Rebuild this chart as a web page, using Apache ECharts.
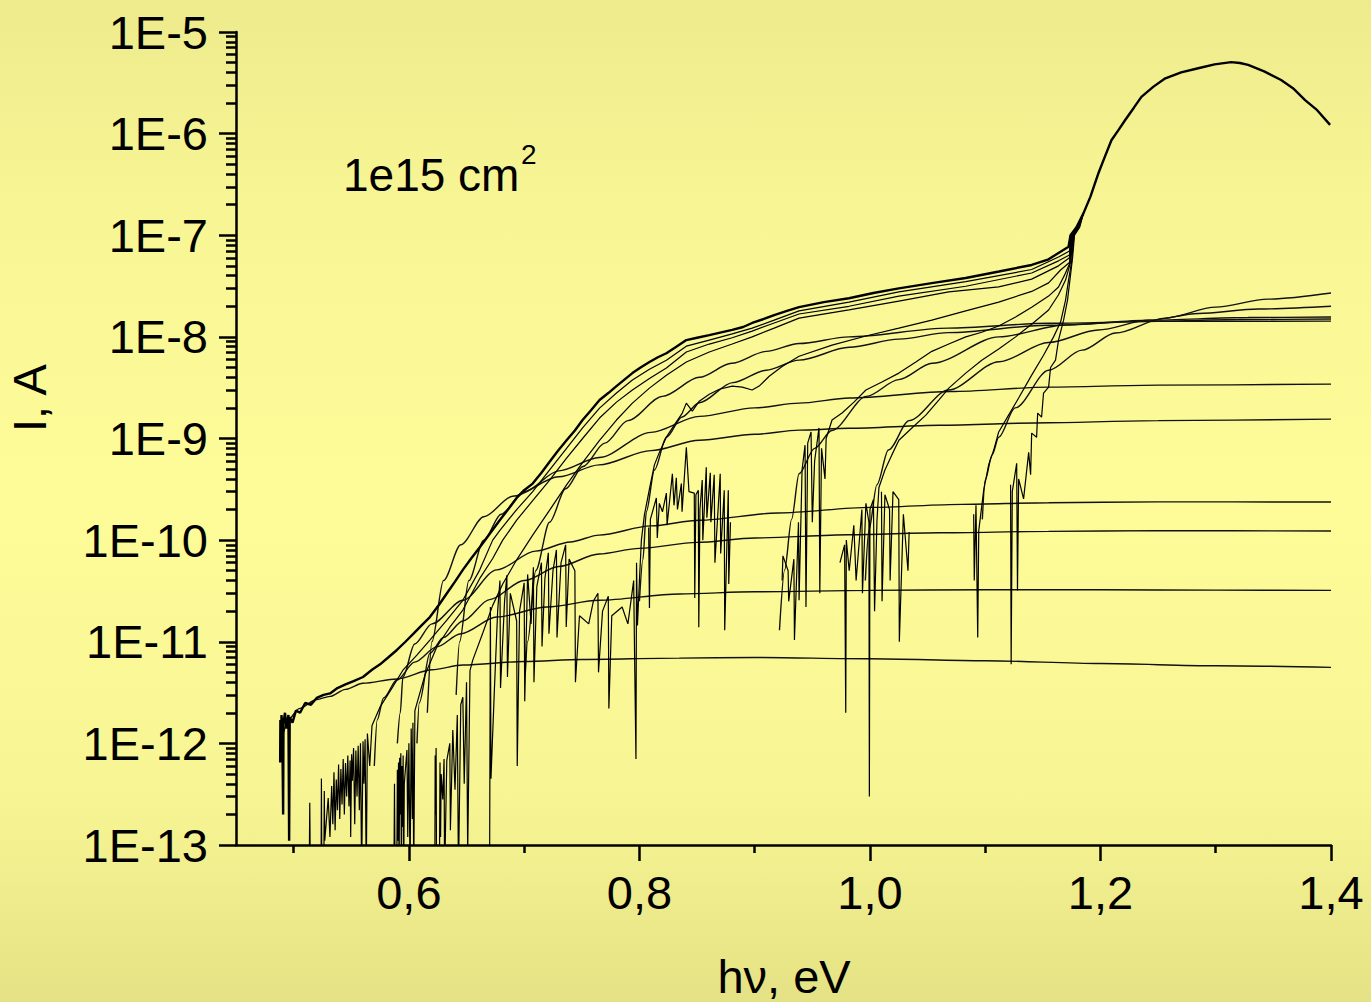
<!DOCTYPE html>
<html>
<head>
<meta charset="utf-8">
<script src="https://cdn.jsdelivr.net/npm/echarts@6/dist/echarts.min.js"></script>
<style>
html,body{margin:0;padding:0;width:1371px;height:1002px;overflow:hidden;}
#chart{width:1371px;height:1002px;
  background:linear-gradient(to bottom,#eeeb8d 0%,#f9f795 25%,#fdfc99 50%,#f8f694 78%,#e5e285 100%);}
</style>
</head>
<body>
<div id="chart"></div>
<script>
// ---- axis ticks ----
const xMajorTicks = [0.6, 0.8, 1.0, 1.2, 1.4];
const xMinorTicks = [0.5, 0.7, 0.9, 1.1, 1.3];
const yDecades = [1e-13, 1e-12, 1e-11, 1e-10, 1e-9, 1e-8, 1e-7, 1e-6, 1e-5];
const yTickLabels = ['1E-13', '1E-12', '1E-11', '1E-10', '1E-9', '1E-8', '1E-7', '1E-6', '1E-5'];
const minorMantissas = [2, 3, 4, 5, 6, 7, 8, 9];

// ---- measured photocurrent scans: [hν (eV), I (A)] ----
const scan1 = [[0.4883,6.5e-13],[0.4885,1.7e-12],[0.4890,1.0e-12],[0.4895,1.9e-12],[0.4902,1.2e-12],[0.4909,2.0e-13],[0.4912,1.6e-12],[0.4925,2.0e-12],[0.4938,1.4e-12],[0.4955,1.9e-12],[0.4961,1.1e-13],[0.4966,1.8e-12],[0.4990,1.6e-12],[0.5020,2.1e-12],[0.5056,2.0e-12],[0.5100,2.5e-12],[0.5150,2.4e-12],[0.5200,2.8e-12],[0.5260,3.0e-12],[0.5316,3.1e-12],[0.5380,3.5e-12],[0.5450,3.8e-12],[0.5520,4.1e-12],[0.5602,4.5e-12],[0.5680,5.3e-12],[0.5750,6.0e-12],[0.5820,7.0e-12],[0.5896,8.3e-12],[0.5970,1.0e-11],[0.6040,1.2e-11],[0.6110,1.45e-11],[0.6182,1.75e-11],[0.6260,2.3e-11],[0.6330,3.0e-11],[0.6400,3.9e-11],[0.6468,5.1e-11],[0.6540,6.6e-11],[0.6615,8.5e-11],[0.6700,1.15e-10],[0.6788,1.57e-10],[0.6860,2.0e-10],[0.6935,2.6e-10],[0.7000,3.1e-10],[0.7074,3.6e-10],[0.7150,4.6e-10],[0.7221,5.9e-10],[0.7290,7.5e-10],[0.7368,9.6e-10],[0.7440,1.2e-9],[0.7507,1.52e-9],[0.7580,1.9e-9],[0.7654,2.39e-9],[0.7730,2.8e-9],[0.7801,3.28e-9],[0.7870,3.8e-9],[0.7939,4.4e-9],[0.8010,5.0e-9],[0.8087,5.65e-9],[0.8160,6.3e-9],[0.8234,6.9e-9],[0.8320,8.0e-9],[0.8407,9.3e-9],[0.8500,9.8e-9],[0.8606,1.04e-8],[0.8700,1.1e-8],[0.8805,1.17e-8],[0.8900,1.25e-8],[0.8978,1.37e-8],[0.9080,1.5e-8],[0.9169,1.64e-8],[0.9280,1.8e-8],[0.9385,1.96e-8],[0.9600,2.2e-8],[0.9818,2.4e-8],[1.0030,2.7e-8],[1.0251,3.0e-8],[1.0550,3.4e-8],[1.0831,3.8e-8],[1.1120,4.4e-8],[1.1403,5.1e-8],[1.1550,5.8e-8],[1.1636,6.7e-8],[1.1723,7.7e-8],[1.1740,1.0e-7],[1.1792,1.2e-7],[1.1853,1.65e-7],[1.1913,2.4e-7],[1.1983,4.1e-7],[1.2040,6.0e-7],[1.2095,8.6e-7],[1.2160,1.1e-6],[1.2216,1.37e-6],[1.2290,1.8e-6],[1.2355,2.3e-6],[1.2460,2.9e-6],[1.2563,3.5e-6],[1.2700,4.0e-6],[1.2848,4.4e-6],[1.2990,4.8e-6],[1.3134,5.05e-6],[1.3210,4.95e-6],[1.3281,4.75e-6],[1.3420,4.1e-6],[1.3567,3.37e-6],[1.3670,2.8e-6],[1.3775,2.14e-6],[1.3880,1.7e-6],[1.3992,1.22e-6]];

const scan2 = [[0.5135,5e-14],[0.5140,2.6e-13],[0.5145,5e-14],[0.5238,5e-14],[0.5241,4.5e-13],[0.5244,8e-14],[0.5262,5e-14],[0.5266,3.4e-13],[0.5270,1.1e-13],[0.5300,2.9e-13],[0.5315,1.2e-13],[0.5330,3.8e-13],[0.5340,1.6e-13],[0.5350,5.2e-13],[0.5360,1.4e-13],[0.5370,4.4e-13],[0.5380,2.2e-13],[0.5390,6.2e-13],[0.5400,1.8e-13],[0.5410,5.6e-13],[0.5420,2.5e-13],[0.5430,7.0e-13],[0.5440,2.0e-13],[0.5450,6.4e-13],[0.5460,3.0e-13],[0.5470,7.6e-13],[0.5480,2.4e-13],[0.5490,6.8e-13],[0.5495,1.2e-13],[0.5503,7.8e-13],[0.5510,4.3e-13],[0.5520,9.0e-13],[0.5530,1.6e-13],[0.5540,8.5e-13],[0.5550,3.0e-13],[0.5560,9.5e-13],[0.5570,2.2e-13],[0.5580,1.0e-12],[0.5590,5e-14],[0.5602,1.05e-12],[0.5610,4.0e-13],[0.5620,1.1e-12],[0.5630,5e-14],[0.5640,1.25e-12],[0.5660,6.0e-13],[0.5680,1.5e-12],[0.5749,2.27e-12],[0.5853,3.5e-12],[0.5948,5.25e-12],[0.6069,7.4e-12],[0.6182,1.04e-11],[0.6329,1.63e-11],[0.6468,2.56e-11],[0.6615,5.1e-11],[0.6727,1.0e-10],[0.6788,1.24e-10],[0.6935,2.0e-10],[0.7074,3.0e-10],[0.7221,4.9e-10],[0.7368,8.0e-10],[0.7507,1.27e-9],[0.7654,1.99e-9],[0.7801,2.8e-9],[0.7939,3.76e-9],[0.8087,4.8e-9],[0.8234,5.9e-9],[0.8407,8.1e-9],[0.8606,9.3e-9],[0.8805,1.07e-8],[0.8978,1.22e-8],[0.9169,1.46e-8],[0.9385,1.8e-8],[0.9818,2.2e-8],[1.0251,2.77e-8],[1.0831,3.5e-8],[1.1403,4.6e-8],[1.1636,6.1e-8],[1.1731,7.0e-8],[1.1745,1.0e-7],[1.1792,1.2e-7],[1.1853,1.65e-7]];

const scan3 = [[0.5870,5e-14],[0.5875,4.0e-13],[0.5880,5e-14],[0.5895,5e-14],[0.5900,5.5e-13],[0.5905,1.1e-13],[0.5910,6.5e-13],[0.5915,5e-14],[0.5920,7.2e-13],[0.5925,2.0e-13],[0.5930,8.0e-13],[0.5935,5e-14],[0.5940,6.0e-13],[0.5945,1.5e-13],[0.5950,7.6e-13],[0.5955,5e-14],[0.5960,4.0e-13],[0.5983,8.6e-13],[0.5990,1.2e-13],[0.6000,1.0e-12],[0.6010,5e-14],[0.6020,1.4e-12],[0.6030,1.8e-13],[0.6035,1.6e-12],[0.6042,5e-14],[0.6052,2.1e-12],[0.6139,4.7e-12],[0.6242,8.9e-12],[0.6355,1.39e-11],[0.6468,2.05e-11],[0.6615,4.2e-11],[0.6727,6.6e-11],[0.6814,1.0e-10],[0.6935,1.57e-10],[0.7074,2.45e-10],[0.7221,3.9e-10],[0.7368,6.4e-10],[0.7507,1.0e-9],[0.7654,1.59e-9],[0.7801,2.28e-9],[0.7939,3.0e-9],[0.8087,3.9e-9],[0.8234,4.95e-9],[0.8407,7.1e-9],[0.8606,8.5e-9],[0.8805,9.8e-9],[0.8978,1.14e-8],[0.9169,1.37e-8],[0.9385,1.68e-8],[0.9818,2.0e-8],[1.0251,2.52e-8],[1.0831,3.15e-8],[1.1403,4.25e-8],[1.1636,5.6e-8],[1.1731,6.4e-8],[1.1748,1.0e-7],[1.1795,1.2e-7],[1.1853,1.65e-7]];

const scan4 = [[0.6225,5e-14],[0.6228,7.6e-13],[0.6232,2.0e-13],[0.6236,9.0e-13],[0.6240,5e-14],[0.6265,5e-14],[0.6270,6.5e-13],[0.6275,1.2e-13],[0.6280,5.0e-13],[0.6294,2.8e-13],[0.6305,7.0e-13],[0.6310,5e-14],[0.6329,6.8e-13],[0.6355,1.0e-12],[0.6360,1.4e-13],[0.6381,1.35e-12],[0.6400,3.5e-13],[0.6420,1.9e-12],[0.6430,5e-14],[0.6450,2.4e-12],[0.6468,2.85e-12],[0.6480,4.0e-13],[0.6500,4.0e-12],[0.6510,8e-14],[0.6530,5.2e-12],[0.6554,6.6e-12],[0.6641,1.22e-11],[0.6727,2.28e-11],[0.6814,3.7e-11],[0.6935,6.4e-11],[0.7074,1.12e-10],[0.7221,1.97e-10],[0.7368,3.5e-10],[0.7507,5.8e-10],[0.7654,9.6e-10],[0.7801,1.52e-9],[0.7939,2.23e-9],[0.8087,3.13e-9],[0.8234,4.2e-9],[0.8407,5.65e-9],[0.8606,7.1e-9],[0.8805,8.5e-9],[0.8978,1.0e-8],[0.9169,1.22e-8],[0.9385,1.53e-8],[0.9818,1.84e-8],[1.0251,2.25e-8],[1.0684,2.77e-8],[1.1117,3.1e-8],[1.1403,3.7e-8],[1.1636,5.0e-8],[1.1731,6.0e-8],[1.1752,1.0e-7],[1.1797,1.2e-7],[1.1853,1.65e-7]];

const scan5 = [[0.6700,5e-14],[0.6707,2.2e-11],[0.6712,4.5e-13],[0.6740,3.0e-12],[0.6770,2.0e-11],[0.6790,4.0e-11],[0.6795,3.5e-12],[0.6830,2.5e-11],[0.6850,4.5e-11],[0.6855,4.5e-12],[0.6880,3.0e-11],[0.6935,1.6e-11],[0.6940,6.0e-13],[0.6960,2.0e-11],[0.7000,3.8e-11],[0.7005,2.6e-12],[0.7030,4.6e-11],[0.7060,1.5e-11],[0.7080,5.4e-11],[0.7085,4.0e-12],[0.7110,3.5e-11],[0.7150,6.0e-11],[0.7155,9.0e-12],[0.7180,4.2e-11],[0.7210,7.5e-11],[0.7215,1.2e-11],[0.7250,5.0e-11],[0.7280,8.0e-11],[0.7285,1.1e-11],[0.7320,6.0e-11],[0.7360,9.0e-11],[0.7365,1.4e-11],[0.7390,6.5e-11],[0.7440,5.0e-11],[0.7445,4.0e-12],[0.7480,1.8e-11],[0.7560,1.5e-11],[0.7600,2.5e-11],[0.7640,3.0e-11],[0.7645,5.0e-12],[0.7680,2.0e-11],[0.7730,2.8e-11],[0.7735,2.2e-12],[0.7760,1.8e-11],[0.7850,2.2e-11],[0.7900,1.5e-11],[0.7950,4.0e-11],[0.7960,5.0e-12],[0.7970,7.0e-13],[0.7975,6.0e-11],[0.7983,1.45e-11],[0.8000,4.0e-11],[0.8017,1.0e-10],[0.8043,1.76e-10],[0.8087,3.2e-10],[0.8130,5.5e-10],[0.8173,7.3e-10],[0.8234,1.03e-9],[0.8303,1.36e-9],[0.8372,1.78e-9],[0.8407,2.23e-9],[0.8459,1.86e-9],[0.8519,2.33e-9],[0.8606,2.73e-9],[0.8693,3.05e-9],[0.8805,3.28e-9],[0.8892,3.2e-9],[0.8978,3.0e-9],[0.9039,3.28e-9],[0.9126,4.1e-9],[0.9238,5.1e-9],[0.9385,6.45e-9],[0.9671,8.3e-9],[0.9965,1.02e-8],[1.0251,1.22e-8],[1.0537,1.46e-8],[1.0831,1.8e-8],[1.1117,2.2e-8],[1.1403,2.8e-8],[1.1550,3.4e-8],[1.1654,4.55e-8],[1.1731,5.4e-8],[1.1757,1.0e-7],[1.1800,1.2e-7],[1.1853,1.65e-7]];

const scan6Early = [[0.8080,1.33e-10],[0.8087,2.15e-11],[0.8095,1.6e-10],[0.8147,2.6e-10],[0.8155,1.05e-10],[0.8173,2.3e-10],[0.8200,1.9e-10],[0.8234,2.9e-10],[0.8240,1.4e-10],[0.8286,4.5e-10],[0.8300,2.2e-10],[0.8320,4.1e-10],[0.8330,2.0e-10],[0.8364,3.6e-10],[0.8370,1.9e-10],[0.8407,8.2e-10],[0.8430,3.0e-10],[0.8476,2.9e-10],[0.8480,2.7e-11],[0.8490,2.8e-10],[0.8511,3.1e-10],[0.8515,1.39e-11],[0.8525,2.0e-10],[0.8545,3.9e-10],[0.8550,1.0e-10],[0.8580,5.2e-10],[0.8585,1.66e-10],[0.8615,4.6e-10],[0.8620,1.5e-10],[0.8649,4.4e-10],[0.8655,6.0e-11],[0.8701,4.5e-10],[0.8705,7.4e-11],[0.8736,3.1e-10],[0.8740,1.3e-11],[0.8771,3.1e-10],[0.8775,3.7e-11],[0.8790,1.5e-10]];

const scan6 = [[0.9238,4.0e-11],[0.9245,7.0e-11],[0.9290,5.0e-11],[0.9295,2.5e-11],[0.9340,6.5e-11],[0.9345,1.04e-11],[0.9380,1.5e-10],[0.9385,2.56e-11],[0.9411,4.9e-10],[0.9437,8.6e-10],[0.9445,2.2e-11],[0.9460,9.0e-10],[0.9489,1.16e-9],[0.9500,1.5e-10],[0.9520,6.0e-10],[0.9558,1.27e-9],[0.9565,3.0e-11],[0.9580,8.0e-10],[0.9610,4.0e-10],[0.9620,1.0e-9],[0.9671,1.52e-9],[0.9758,1.78e-9],[0.9861,2.28e-9],[0.9965,3.0e-9],[1.0104,3.6e-9],[1.0251,4.4e-9],[1.0398,5.65e-9],[1.0537,7.2e-9],[1.0684,8.5e-9],[1.0831,1.0e-8],[1.0970,1.11e-8],[1.1117,1.28e-8],[1.1264,1.57e-8],[1.1403,1.96e-8],[1.1550,2.52e-8],[1.1636,3.1e-8],[1.1688,4.05e-8],[1.1731,5.2e-8],[1.1762,1.0e-7],[1.1805,1.2e-7],[1.1853,1.65e-7]];

const scan7 = [[0.9740,6.0e-11],[0.9780,9.0e-11],[0.9790,2.0e-12],[0.9795,1.0e-10],[0.9820,5.0e-11],[0.9860,1.4e-10],[0.9880,4.0e-11],[0.9930,2.0e-10],[0.9935,3.0e-11],[0.9965,2.3e-10],[0.9991,1.5e-10],[0.9995,3.0e-13],[1.0000,2.0e-10],[1.0030,2.5e-10],[1.0040,2.0e-11],[1.0061,1.57e-10],[1.0078,3.3e-10],[1.0130,4.9e-10],[1.0190,6.9e-10],[1.0251,9.6e-10],[1.0364,1.27e-9],[1.0485,1.7e-9],[1.0597,2.39e-9],[1.0684,3.13e-9],[1.0831,4.4e-9],[1.0970,5.9e-9],[1.1117,7.6e-9],[1.1264,1.0e-8],[1.1403,1.33e-8],[1.1550,1.84e-8],[1.1636,2.6e-8],[1.1697,3.62e-8],[1.1740,5.4e-8],[1.1766,1.0e-7],[1.1810,1.2e-7],[1.1853,1.65e-7]];

const scan8Early = [[1.0100,3.0e-10],[1.0105,2.5e-11],[1.0130,2.8e-10],[1.0170,2.0e-10],[1.0175,4.0e-11],[1.0200,3.0e-10],[1.0250,2.5e-10],[1.0255,1.0e-11],[1.0290,1.8e-10],[1.0330,5.0e-11],[1.0340,1.2e-10]];

const scan8 = [[1.0900,1.8e-10],[1.0905,4.0e-11],[1.0920,2.2e-10],[1.0935,1.1e-11],[1.0944,1.24e-10],[1.0987,3.1e-10],[1.1030,5.5e-10],[1.1074,7.7e-10],[1.1117,1.16e-9],[1.1203,1.7e-9],[1.1290,2.5e-9],[1.1403,4.2e-9],[1.1506,6.6e-9],[1.1593,1.0e-8],[1.1654,1.4e-8],[1.1697,2.3e-8],[1.1723,3.62e-8],[1.1749,5.4e-8],[1.1770,1.0e-7],[1.1815,1.2e-7],[1.1853,1.65e-7]];

const scan9 = [[1.1220,3.5e-10],[1.1225,6.0e-12],[1.1235,3.0e-10],[1.1273,5.7e-10],[1.1280,3.2e-11],[1.1290,4.0e-10],[1.1333,2.55e-10],[1.1377,7.3e-10],[1.1394,4.4e-10],[1.1403,1.13e-9],[1.1446,1.03e-9],[1.1455,1.78e-9],[1.1489,1.62e-9],[1.1506,2.8e-9],[1.1550,3.2e-9],[1.1567,5.0e-9],[1.1610,5.9e-9],[1.1636,9.3e-9],[1.1680,1.46e-8],[1.1714,2.3e-8],[1.1740,4.05e-8],[1.1758,6.0e-8],[1.1775,1.0e-7],[1.1820,1.2e-7],[1.1853,1.65e-7]];

// ---- fitted level components: [hν (eV), I (A)] ----
const fit1 = [[0.4885,8e-13],[0.4900,1.2e-12],[0.4950,1.7e-12],[0.5050,2.2e-12],[0.5200,2.7e-12],[0.5316,2.9e-12],[0.5450,3.4e-12],[0.5600,3.9e-12],[0.5896,4.3e-12],[0.6200,5.3e-12],[0.6468,5.9e-12],[0.7000,6.4e-12],[0.7500,6.7e-12],[0.8346,6.9e-12],[0.9000,7.0e-12],[1.0000,6.8e-12],[1.1000,6.5e-12],[1.2000,6.1e-12],[1.3000,5.8e-12],[1.4000,5.6e-12]];
const fit2 = [[0.5700,6e-13],[0.5725,1.7e-12],[0.5780,2.8e-12],[0.5896,4.2e-12],[0.6050,6.3e-12],[0.6242,8.9e-12],[0.6450,1.2e-11],[0.6762,1.75e-11],[0.7200,2.2e-11],[0.7650,2.56e-11],[0.8346,2.95e-11],[0.9000,3.1e-11],[1.0000,3.2e-11],[1.1000,3.25e-11],[1.2000,3.25e-11],[1.3000,3.22e-11],[1.4000,3.2e-11]];
const fit3 = [[0.6070,1e-12],[0.6090,2.5e-12],[0.6182,7.7e-12],[0.6300,1.1e-11],[0.6468,1.6e-11],[0.6700,2.6e-11],[0.7000,4.0e-11],[0.7300,5.5e-11],[0.7650,7.3e-11],[0.8000,8.3e-11],[0.8500,9.5e-11],[0.9000,1.05e-10],[0.9820,1.13e-10],[1.0600,1.18e-10],[1.1550,1.22e-10],[1.2500,1.24e-10],[1.4000,1.23e-10]];
const fit4 = [[0.5900,1e-12],[0.5925,2.0e-12],[0.5948,4.5e-12],[0.6050,9.5e-12],[0.6200,1.5e-11],[0.6468,2.56e-11],[0.6762,5.1e-11],[0.7100,7.8e-11],[0.7400,9.6e-11],[0.7650,1.12e-10],[0.8100,1.38e-10],[0.8520,1.57e-10],[0.9200,1.85e-10],[1.0000,2.1e-10],[1.0800,2.25e-10],[1.1550,2.33e-10],[1.2500,2.38e-10],[1.4000,2.37e-10]];
const fit5 = [[0.6160,2e-12],[0.6200,1e-11],[0.6300,4e-11],[0.6450,9e-11],[0.6650,1.7e-10],[0.6900,2.7e-10],[0.7300,4.2e-10],[0.7650,5.5e-10],[0.8100,7.6e-10],[0.8520,9.6e-10],[0.9000,1.1e-9],[0.9385,1.21e-9],[0.9820,1.26e-9],[1.0600,1.35e-9],[1.1550,1.43e-9],[1.2500,1.5e-9],[1.4000,1.55e-9]];
const fit6 = [[0.6410,3e-12],[0.6440,1e-11],[0.6520,4e-11],[0.6650,1.0e-10],[0.6800,1.8e-10],[0.7000,3.0e-10],[0.7300,4.8e-10],[0.7650,6.5e-10],[0.8100,1.15e-9],[0.8520,1.65e-9],[0.9000,2.0e-9],[0.9385,2.23e-9],[0.9820,2.5e-9],[1.0700,2.9e-9],[1.1550,3.2e-9],[1.2500,3.35e-9],[1.4000,3.43e-9]];
const fit7 = [[0.7010,5e-12],[0.7030,1e-11],[0.7100,5e-11],[0.7220,1.5e-10],[0.7360,3.2e-10],[0.7510,5.3e-10],[0.7700,9e-10],[0.7900,1.5e-9],[0.8200,2.6e-9],[0.8520,4.0e-9],[0.8800,5.5e-9],[0.9100,7.2e-9],[0.9385,8.6e-9],[0.9820,1.0e-8],[1.0680,1.22e-8],[1.1550,1.36e-8],[1.2500,1.42e-8],[1.4000,1.43e-8]];
const fit8 = [[0.8000,2.5e-11],[0.8030,6.4e-11],[0.8060,1.9e-10],[0.8130,4.9e-10],[0.8234,1.03e-9],[0.8370,1.63e-9],[0.8520,2.25e-9],[0.8810,3.55e-9],[0.9100,4.7e-9],[0.9385,5.9e-9],[0.9820,7.9e-9],[1.0250,9.5e-9],[1.0680,1.1e-8],[1.1550,1.3e-8],[1.2420,1.42e-8],[1.3200,1.48e-8],[1.4000,1.5e-8]];
const fit9 = [[0.9215,1.3e-11],[0.9260,5.1e-11],[0.9320,1.6e-10],[0.9385,4.5e-10],[0.9520,8.0e-10],[0.9670,1.2e-9],[0.9970,2.6e-9],[1.0250,3.8e-9],[1.0540,5.5e-9],[1.1120,1.0e-8],[1.1700,1.31e-8],[1.2420,1.46e-8],[1.3280,1.55e-8],[1.4000,1.57e-8]];
const fit10 = [[0.9960,4.0e-11],[0.9991,1.25e-10],[1.0060,3.5e-10],[1.0160,7.7e-10],[1.0340,1.5e-9],[1.0680,3.0e-9],[1.1120,5.7e-9],[1.1550,8.8e-9],[1.1980,1.17e-8],[1.2420,1.46e-8],[1.2850,1.7e-8],[1.3370,1.88e-8],[1.4000,2.0e-8]];
const fit11 = [[1.0975,1.6e-10],[1.1000,3.9e-10],[1.1060,6.9e-10],[1.1117,1.03e-9],[1.1260,2.0e-9],[1.1550,4.7e-9],[1.1840,7.4e-9],[1.2130,1.09e-8],[1.2560,1.53e-8],[1.3000,1.96e-8],[1.3450,2.35e-8],[1.4000,2.7e-8]];

const scans = [scan2, scan3, scan4, scan5, scan6Early, scan6, scan7, scan8Early, scan8, scan9];
const fits = [fit1, fit2, fit3, fit4, fit5, fit6, fit7, fit8, fit9, fit10, fit11];

const yMinorTicks = [];
yDecades.slice(0, -1).forEach(d => minorMantissas.forEach(m => yMinorTicks.push(m * d)));

const FONT = '"Liberation Sans", Arial, sans-serif';
const X_MIN = 0.45, X_MAX = 1.4, Y_MIN = 1e-13, Y_MAX = 1e-5;

const chart = echarts.init(document.getElementById('chart'), null, { renderer: 'svg' });

const series = [];
fits.forEach(d => series.push({
  type: 'line', data: d, symbol: 'none', smooth: 0.3, smoothMonotone: 'x',
  lineStyle: { color: '#111', width: 1.4 }, silent: true, z: 2
}));
scans.forEach(d => series.push({
  type: 'line', data: d, symbol: 'none',
  lineStyle: { color: '#000', width: 1.2 }, silent: true, z: 3
}));
series.push({
  type: 'line', data: scan1, symbol: 'none',
  lineStyle: { color: '#000', width: 2.4 }, silent: true, z: 4
});

chart.setOption({
  animation: false,
  backgroundColor: 'transparent',
  grid: { left: 236, right: 40, top: 32, bottom: 157, containLabel: false },
  xAxis: [{
    type: 'value', min: X_MIN, max: X_MAX,
    axisLine: { show: true, onZero: false, lineStyle: { color: '#000', width: 2.5 } },
    axisTick: { show: true, customValues: xMajorTicks, length: 16, lineStyle: { color: '#000', width: 2.5 } },
    axisLabel: { customValues: xMajorTicks, margin: 24, fontSize: 47, fontFamily: FONT, color: '#000',
      formatter: v => v.toFixed(1).replace('.', ',') },
    splitLine: { show: false }
  }, {
    type: 'value', min: X_MIN, max: X_MAX, position: 'bottom',
    axisLine: { show: false },
    axisTick: { show: true, customValues: xMinorTicks, length: 8, lineStyle: { color: '#000', width: 2.5 } },
    axisLabel: { show: false }, splitLine: { show: false }
  }],
  yAxis: [{
    type: 'log', logBase: 10, min: Y_MIN, max: Y_MAX,
    axisLine: { show: true, onZero: false, lineStyle: { color: '#000', width: 2.5 } },
    axisTick: { show: true, customValues: yDecades, length: 17, lineStyle: { color: '#000', width: 2.5 } },
    axisLabel: { customValues: yDecades, margin: 28, fontSize: 47, fontFamily: FONT, color: '#000',
      formatter: v => yTickLabels[Math.round(Math.log10(v)) + 13] },
    splitLine: { show: false }
  }, {
    type: 'log', logBase: 10, min: Y_MIN, max: Y_MAX, position: 'left',
    axisLine: { show: false },
    axisTick: { show: true, customValues: yMinorTicks, length: 10, lineStyle: { color: '#000', width: 2.5 } },
    axisLabel: { show: false }, splitLine: { show: false }
  }],
  graphic: [
    { type: 'text', x: 29, y: 398, rotation: Math.PI / 2,
      style: { text: 'I, A', font: '47px ' + FONT, fill: '#000', align: 'center', verticalAlign: 'middle' } },
    { type: 'text', x: 784, y: 976,
      style: { text: 'hν, eV', font: '47px ' + FONT, fill: '#000', align: 'center', verticalAlign: 'middle' } },
    { type: 'text', x: 343, y: 175,
      style: { text: '1e15 cm', font: '46px ' + FONT, fill: '#000', align: 'left', verticalAlign: 'middle' } },
    { type: 'text', x: 521, y: 154,
      style: { text: '2', font: '28px ' + FONT, fill: '#000', align: 'left', verticalAlign: 'middle' } }
  ],
  series: series
});
</script>
</body>
</html>
